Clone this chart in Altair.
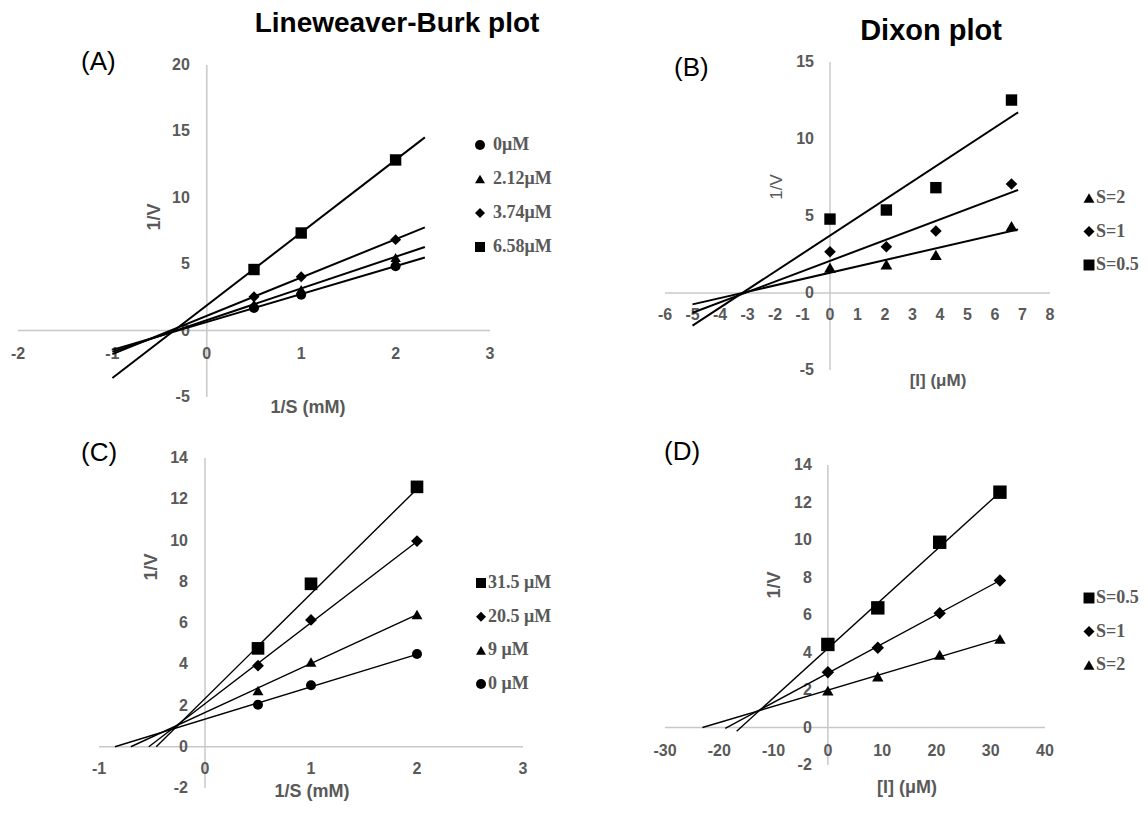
import altair as alt
import pandas as pd

# ---------------- data ----------------
# Panel A : Lineweaver-Burk, inhibitor 1
A_series = ["0μM", "2.12μM", "3.74μM", "6.58μM"]
A_x = [0.5, 1, 2]
A_y = {
    "0μM": [1.7, 2.7, 4.85],
    "2.12μM": [2.0, 3.1, 5.5],
    "3.74μM": [2.55, 4.05, 6.85],
    "6.58μM": [4.6, 7.35, 12.85],
}
A_line_x0 = [-1.0, -1.0, -1.0, -1.0]
A_line_y0 = [-1.45, -1.6, -1.77, -3.57]
A_line_x1 = [2.31, 2.31, 2.31, 2.31]
A_line_y1 = [5.5, 6.3, 7.77, 14.55]
A_xticks = [-2, -1, 0, 1, 2, 3]
A_yticks = [-5, 0, 5, 10, 15, 20]

# Panel B : Dixon, inhibitor 1
B_series = ["S=2", "S=1", "S=0.5"]
B_x = [0, 2.05, 3.85, 6.6]
B_y = {
    "S=2": [1.64, 1.86, 2.47, 4.35],
    "S=1": [2.68, 3.0, 4.03, 7.08],
    "S=0.5": [4.8, 5.39, 6.84, 12.53],
}
B_line_x0 = [-5.0, -5.0, -5.0]
B_line_y0 = [-0.74, -1.28, -2.12]
B_line_x1 = [6.84, 6.84, 6.84]
B_line_y1 = [4.13, 6.69, 11.73]
B_xticks = [-6, -5, -4, -3, -2, -1, 0, 1, 2, 3, 4, 5, 6, 7, 8]
B_yticks = [-5, 0, 5, 10, 15]

# Panel C : Lineweaver-Burk, inhibitor 2
C_series = ["31.5 μM", "20.5 μM", "9 μM", "0 μM"]
C_x = [0.5, 1, 2]
C_y = {
    "31.5 μM": [4.77, 7.9, 12.6],
    "20.5 μM": [3.93, 6.15, 9.97],
    "9 μM": [2.73, 4.11, 6.41],
    "0 μM": [2.04, 2.98, 4.5],
}
C_line_x0 = [-0.46, -0.53, -0.70, -0.85]
C_line_y0 = [0, 0, 0, 0]
C_line_x1 = [2, 2, 2, 2]
C_line_y1 = [12.5, 9.95, 6.41, 4.48]
C_xticks = [-1, 0, 1, 2, 3]
C_yticks = [-2, 0, 2, 4, 6, 8, 10, 12, 14]

# Panel D : Dixon, inhibitor 2
D_series = ["S=0.5", "S=1", "S=2"]
D_x = [0, 9.2, 20.6, 31.7]
D_y = {
    "S=0.5": [4.43, 6.38, 9.88, 12.55],
    "S=1": [2.95, 4.25, 6.1, 7.84],
    "S=2": [1.97, 2.72, 3.88, 4.73],
}
D_line_x0 = [-16.8, -18.9, -23.1]
D_line_y0 = [-0.2, -0.05, 0]
D_line_x1 = [31.7, 31.7, 31.7]
D_line_y1 = [12.55, 7.84, 4.73]
D_xticks = [-30, -20, -10, 0, 10, 20, 30, 40]
D_yticks = [-2, 0, 2, 4, 6, 8, 10, 12, 14]

# ---------------- layout helpers ----------------
W, H = 1132, 794
OX, OY = 8, 8
GRAY_TXT = "#595959"
AXIS_COL = "#C8C8C8"
SANS = "Liberation Sans"
SERIF = "Liberation Serif"


def lin_domain(v0, p0, v1, p1, size):
    k = (p1 - p0) / (v1 - v0)
    start = v0 - p0 / k
    return [start, start + size / k]


def xdom(v0, px0, v1, px1):
    return lin_domain(v0, px0 - OX, v1, px1 - OX, W)


def ydom(v0, py0, v1, py1):
    return lin_domain(v0, H - (py0 - OY), v1, H - (py1 - OY), H)


def points_df(series, xs, ys):
    rows = []
    for s in series:
        for x, y in zip(xs, ys[s]):
            rows.append({"series": s, "x": x, "y": y})
    return pd.DataFrame(rows)


def lines_df(series, x0, y0, x1, y1):
    rows = []
    for i, s in enumerate(series):
        rows.append({"series": s, "x": x0[i], "y": y0[i]})
        rows.append({"series": s, "x": x1[i], "y": y1[i]})
    return pd.DataFrame(rows)


def panel(series, pts, lns, xticks, yticks, xd, yd, shapes, sizes, lw, ylab_dx, xlab_dy):
    xs = alt.Scale(domain=xd, nice=False, zero=False)
    ys = alt.Scale(domain=yd, nice=False, zero=False)
    X = lambda f: alt.X(f, scale=xs, axis=None)
    Y = lambda f: alt.Y(f, scale=ys, axis=None)

    haxis = alt.Chart(pd.DataFrame({"a": [min(xticks)], "b": [max(xticks)], "z": [0]})).mark_rule(
        color=AXIS_COL, strokeWidth=1.5).encode(x=X("a:Q"), x2="b:Q", y=Y("z:Q"))
    vaxis = alt.Chart(pd.DataFrame({"a": [min(yticks)], "b": [max(yticks)], "z": [0]})).mark_rule(
        color=AXIS_COL, strokeWidth=1.5).encode(y=Y("a:Q"), y2="b:Q", x=X("z:Q"))

    xl = pd.DataFrame({"v": xticks, "z": 0, "t": [str(v) for v in xticks]})
    yl = pd.DataFrame({"v": yticks, "z": 0, "t": [str(v) for v in yticks]})
    xlab = alt.Chart(xl).mark_text(font=SANS, fontSize=16, fontWeight="bold", color=GRAY_TXT,
                                   align="center", baseline="middle", dy=xlab_dy).encode(
        x=X("v:Q"), y=Y("z:Q"), text="t:N")
    ylab = alt.Chart(yl).mark_text(font=SANS, fontSize=16, fontWeight="bold", color=GRAY_TXT,
                                   align="right", baseline="middle", dx=ylab_dx).encode(
        x=X("z:Q"), y=Y("v:Q"), text="t:N")

    lines = alt.Chart(lns).mark_line(color="black", strokeWidth=lw).encode(
        x=X("x:Q"), y=Y("y:Q"), detail="series:N")

    points = alt.Chart(pts).mark_point(filled=True, opacity=1, color="black").encode(
        x=X("x:Q"), y=Y("y:Q"),
        shape=alt.Shape("series:N", scale=alt.Scale(domain=series, range=shapes), legend=None),
        size=alt.Size("series:N", scale=alt.Scale(domain=series, range=sizes), legend=None),
    )
    return alt.layer(haxis, vaxis, xlab, ylab, lines, points)


def legend_layer(series, shapes, sym_x, txt_x, y_first, y_last, fs, ss):
    df = pd.DataFrame({"series": series})
    ysc = alt.Scale(type="point", domain=series, range=[y_first - OY, y_last - OY], padding=0)
    sym = alt.Chart(df).mark_point(filled=True, opacity=1, color="black", size=ss).encode(
        x=alt.value(sym_x - OX),
        y=alt.Y("series:N", scale=ysc, axis=None),
        shape=alt.Shape("series:N", scale=alt.Scale(domain=series, range=shapes), legend=None),
    )
    txt = alt.Chart(df).mark_text(align="left", baseline="middle", font=SERIF, fontWeight="bold",
                                  fontSize=fs, color=GRAY_TXT).encode(
        x=alt.value(txt_x - OX),
        y=alt.Y("series:N", scale=ysc, axis=None),
        text="series:N",
    )
    return alt.layer(sym, txt)


A_shapes = ["circle", "triangle-up", "diamond", "square"]
B_shapes = ["triangle-up", "diamond", "square"]
C_shapes = ["square", "diamond", "triangle-up", "circle"]
D_shapes = ["square", "diamond", "triangle-up"]

pA = panel(A_series, points_df(A_series, A_x, A_y),
           lines_df(A_series, A_line_x0, A_line_y0, A_line_x1, A_line_y1),
           A_xticks, A_yticks, xdom(-2, 18, 3, 490), ydom(20, 65, -5, 397),
           A_shapes, [100, 130, 115, 160], 2.0, -17, 23)
pB = panel(B_series, points_df(B_series, B_x, B_y),
           lines_df(B_series, B_line_x0, B_line_y0, B_line_x1, B_line_y1),
           B_xticks, B_yticks, xdom(-6, 665, 8, 1050), ydom(15, 62, -5, 370),
           B_shapes, [140, 130, 200], 2.0, -16, 22)
pC = panel(C_series, points_df(C_series, C_x, C_y),
           lines_df(C_series, C_line_x0, C_line_y0, C_line_x1, C_line_y1),
           C_xticks, C_yticks, xdom(-1, 99, 3, 523), ydom(14, 458, -2, 788),
           C_shapes, [160, 100, 140, 120], 1.4, -17, 22)
pD = panel(D_series, points_df(D_series, D_x, D_y),
           lines_df(D_series, D_line_x0, D_line_y0, D_line_x1, D_line_y1),
           D_xticks, D_yticks, xdom(-30, 665, 40, 1045), ydom(14, 465, -2, 765),
           D_shapes, [180, 130, 160], 1.4, -16, 23)

lA = legend_layer(A_series, A_shapes, 480, 493, 145, 247, 18, 100)
lB = legend_layer(B_series, B_shapes, 1089, 1096, 198, 265, 18, 120)
lC = legend_layer(C_series, C_shapes, 481, 488, 583, 684, 18, 100)
lD = legend_layer(D_series, D_shapes, 1089, 1096, 598, 665, 18, 120)

# ---------------- titles and labels ----------------
one = pd.DataFrame({"k": [0]})


def label(text, px, py, size, weight="normal", color="black", angle=0, align="center",
          baseline="middle"):
    return alt.Chart(one).mark_text(
        text=text, font=SANS, fontSize=size, fontWeight=weight, color=color,
        angle=angle, align=align, baseline=baseline,
    ).encode(x=alt.value(px - OX), y=alt.value(py - OY))


texts = [
    label("Lineweaver-Burk plot", 397, 32, 28, "bold", baseline="alphabetic"),
    label("Dixon plot", 931, 40, 29, "bold", baseline="alphabetic"),
    label("(A)", 81, 62, 26, align="left"),
    label("(B)", 674, 68, 26, align="left"),
    label("(C)", 81, 453, 26, align="left"),
    label("(D)", 664, 452, 26, align="left"),
    label("1/S (mM)", 308, 408, 18, "bold", GRAY_TXT),
    label("1/V", 155, 217, 18, "bold", GRAY_TXT, angle=270),
    label("[I] (μM)", 938, 381, 17, "bold", GRAY_TXT),
    label("1/V", 777, 187, 17, "normal", GRAY_TXT, angle=270),
    label("1/S (mM)", 312, 792, 18, "bold", GRAY_TXT),
    label("1/V", 152, 567, 18, "bold", GRAY_TXT, angle=270),
    label("[I] (μM)", 907, 788, 18, "bold", GRAY_TXT),
    label("1/V", 775, 585, 18, "bold", GRAY_TXT, angle=270),
]

chart = alt.layer(pA, pB, pC, pD, lA, lB, lC, lD, *texts).resolve_scale(
    x="independent", y="independent", shape="independent", size="independent"
).properties(
    width=W, height=H, padding=0, autosize=alt.AutoSizeParams(type="none")
).configure_view(stroke=None)

chart.save("out.html", embed_options={"renderer": "svg", "actions": False})
